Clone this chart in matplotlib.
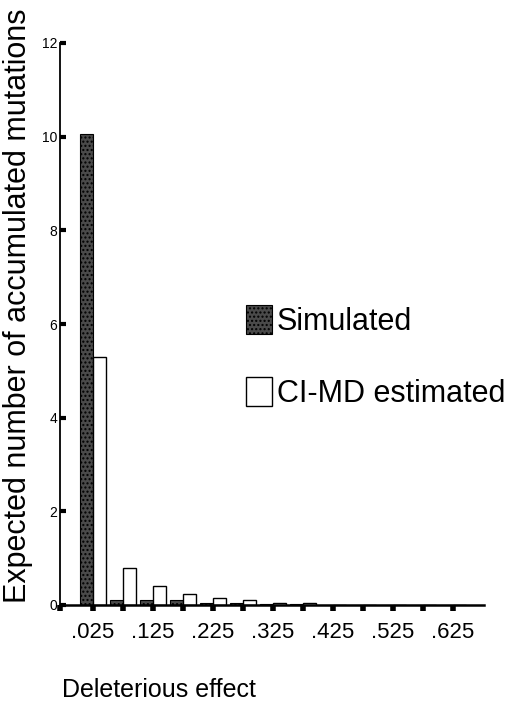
import matplotlib
matplotlib.use("Agg")
import matplotlib.pyplot as plt
import numpy as np

plt.rcParams['font.family'] = ['Liberation Sans', 'DejaVu Sans']

categories = [".025", ".075", ".125", ".175", ".225", ".275", ".325",
              ".375", ".425", ".475", ".525", ".575", ".625"]
simulated = [10.05, 0.10, 0.10, 0.10, 0.04, 0.04, 0.03, 0.03, 0.01, 0.01, 0.01, 0.01, 0.01]
cimd_estimated = [5.30, 0.80, 0.40, 0.23, 0.15, 0.10, 0.04, 0.04, 0.01, 0.01, 0.01, 0.01, 0.01]
yticks = [0, 2, 4, 6, 8, 10, 12]

fig = plt.figure(figsize=(5.08, 7.04), dpi=100)
ax = fig.add_axes([60/508, 1 - 605/704, (484-60)/508, (605-43)/704])

x = np.arange(len(categories))
w = 0.42
ax.bar(x - w/2, simulated, width=w, color='#4a4a4a', edgecolor='black',
       linewidth=0.8, label='Simulated', hatch='....')
ax.bar(x + w/2, cimd_estimated, width=w, color='white', edgecolor='black',
       linewidth=1.0, label='CI-MD estimated')

ax.set_xlim(-1.1, 13.03)
ax.set_ylim(0, 12)
ax.spines['top'].set_visible(False)
ax.spines['right'].set_visible(False)
ax.spines['left'].set_linewidth(1.3)
ax.spines['bottom'].set_linewidth(1.8)

ax.set_yticks(yticks)
ax.set_yticklabels([str(v) for v in yticks], fontsize=10)
ax.tick_params(axis='y', direction='in', length=4, width=3, pad=2)

ax.set_xticks(x[::2])
ax.set_xticklabels(categories[::2], fontsize=16)
ax.set_xticks(list(x[1::2]) + [-1.1], minor=True)
ax.tick_params(axis='x', which='both', direction='out', length=4, width=4, pad=8)

fig.text(18/508, 1 - 306/704, 'Expected number of accumulated mutations',
         rotation=90, ha='center', va='center', fontsize=22)
fig.text(62/508, 1 - 690/704, 'Deleterious effect', ha='left', va='center', fontsize=18)

leg = ax.legend(loc='upper left', bbox_to_anchor=(186/424, 1 - (305-43)/562),
                frameon=False, fontsize=22, handlelength=0.85, handleheight=1.1,
                handletextpad=0.15, labelspacing=1.3, borderpad=0, borderaxespad=0)

fig.savefig('out.png', dpi=100)
